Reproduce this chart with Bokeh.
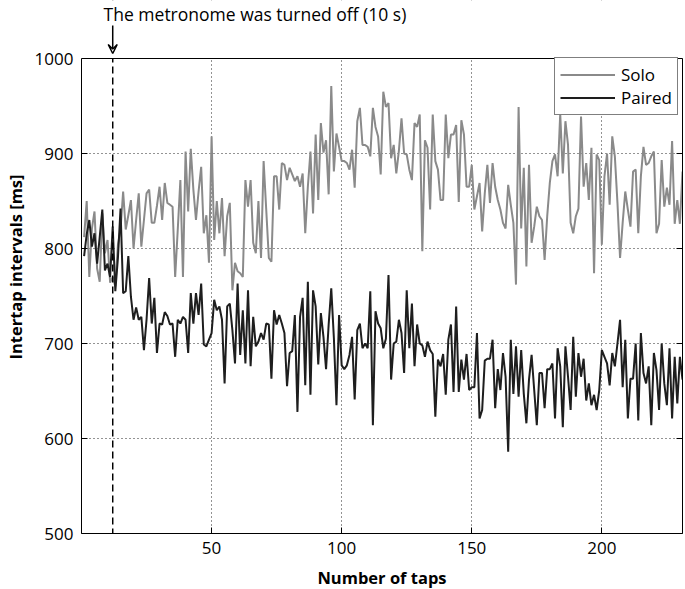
from bokeh.plotting import figure
from bokeh.models import (Range1d, Span, Label, Arrow, VeeHead, FixedTicker, LinearAxis,
                          Legend, LegendItem, BoxAnnotation, CustomJSTickFormatter)
from bokeh.embed import file_html
from bokeh.resources import INLINE

# ---------------- data ----------------
taps = list(range(1, 232))

solo = [
    812, 850, 770, 821, 839, 779, 765, 837, 795, 809,
    764, 770, 760, 804, 820, 860, 820, 835, 851, 800,
    830, 858, 802, 830, 858, 862, 827, 827, 845, 865,
    830, 869, 848, 846, 844, 770, 820, 872, 770, 902,
    839, 905, 862, 830, 860, 886, 816, 835, 785, 918,
    809, 850, 816, 853, 792, 834, 848, 756, 785, 776,
    774, 770, 872, 844, 872, 806, 795, 850, 790, 892,
    841, 790, 786, 876, 876, 841, 890, 888, 872, 885,
    878, 871, 876, 865, 879, 816, 865, 902, 837, 920,
    851, 932, 901, 914, 857, 971, 881, 921, 907, 892,
    892, 890, 883, 904, 864, 934, 948, 909, 909, 907,
    897, 948, 928, 918, 878, 965, 949, 953, 895, 909,
    879, 903, 937, 900, 899, 883, 872, 932, 928, 941,
    797, 914, 906, 841, 941, 892, 883, 851, 851, 941,
    895, 920, 920, 930, 849, 935, 920, 865, 865, 888,
    841, 855, 869, 818, 858, 888, 848, 890, 865, 851,
    841, 827, 821, 867, 846, 827, 762, 949, 821, 885,
    781, 888, 806, 823, 844, 834, 830, 788, 834, 869,
    892, 899, 876, 942, 879, 934, 909, 827, 816, 834,
    842, 939, 865, 890, 851, 906, 774, 899, 893, 804,
    876, 900, 846, 918, 897, 848, 790, 827, 860, 841,
    823, 881, 883, 816, 876, 907, 888, 890, 897, 902,
    816, 826, 893, 844, 864, 846, 913, 826, 851, 826, 881,
]

paired = [
    792, 815, 830, 802, 816, 784, 812, 841, 777, 784,
    770, 823, 755, 790, 842, 753, 755, 792, 749, 725,
    738, 725, 728, 693, 725, 769, 721, 748, 690, 721,
    720, 733, 729, 720, 721, 686, 725, 721, 728, 725,
    690, 753, 721, 753, 730, 763, 699, 697, 704, 711,
    746, 735, 739, 725, 658, 739, 742, 714, 679, 763,
    688, 735, 679, 756, 676, 728, 697, 702, 711, 704,
    721, 720, 663, 735, 720, 730, 721, 711, 655, 690,
    692, 730, 628, 728, 748, 656, 765, 646, 756, 739,
    678, 732, 707, 673, 720, 758, 706, 635, 730, 677,
    673, 677, 688, 707, 641, 714, 721, 695, 700, 695,
    755, 614, 734, 721, 716, 695, 705, 772, 662, 700,
    702, 725, 711, 669, 756, 695, 742, 676, 720, 700,
    698, 686, 702, 693, 689, 623, 683, 676, 689, 646,
    704, 720, 649, 739, 649, 683, 662, 689, 651, 654,
    654, 711, 621, 630, 682, 684, 684, 704, 632, 673,
    651, 690, 665, 586, 704, 647, 697, 644, 693, 647,
    616, 662, 688, 651, 614, 669, 669, 632, 673, 673,
    679, 621, 695, 676, 612, 697, 665, 630, 707, 644,
    690, 665, 684, 640, 658, 635, 646, 630, 651, 693,
    686, 679, 656, 690, 676, 700, 725, 654, 704, 621,
    663, 663, 700, 619, 711, 669, 658, 676, 614, 690,
    672, 630, 700, 658, 635, 695, 621, 686, 637, 686, 662,
]

series_names = ["Solo", "Paired"]
metronome_off_tap = 12
annotation_text = "The metronome was turned off (10 s)"
x_ticks = [50, 100, 150, 200]
y_ticks = [500, 600, 700, 800, 900, 1000]
x_label = "Number of taps"
y_label = "Intertap intervals [ms]"

FONT = "Open Sans"
Y_MIN, Y_MAX = 500, 1000
PLOT_H = 475                      # px of the 500..1000 box
HEAD = 58                         # px of annotation strip above the box (inside the frame)
px_per_ms = PLOT_H / (Y_MAX - Y_MIN)
y_top = Y_MAX + HEAD / px_per_ms

p = figure(
    frame_width=601, frame_height=PLOT_H + HEAD,
    min_border_left=76, min_border_right=3, min_border_top=0, min_border_bottom=40,
    x_range=Range1d(0, 231), y_range=Range1d(Y_MIN, y_top),
    title_location=None,
    output_backend="svg", toolbar_location=None,
    background_fill_color="white", border_fill_color="white",
)
p.outline_line_color = None

for ax in p.xaxis + p.yaxis:
    ax.major_tick_in = 6
    ax.major_tick_out = 0
    ax.minor_tick_line_color = None
    ax.axis_line_color = "black"
    ax.major_tick_line_color = "black"
    ax.major_label_text_font = FONT
    ax.major_label_text_font_size = "17px"
    ax.major_label_text_color = "black"
    ax.axis_label_text_font = FONT
    ax.axis_label_text_font_size = "16.5px"
    ax.axis_label_text_font_style = "bold"
    ax.axis_label_text_color = "black"

p.xaxis.ticker = FixedTicker(ticks=x_ticks)
p.yaxis.ticker = FixedTicker(ticks=y_ticks)
p.yaxis.bounds = (Y_MIN, Y_MAX)
p.xaxis.axis_label = x_label
p.yaxis.axis_label = y_label
p.xaxis.major_label_standoff = 8
p.xaxis.axis_label_standoff = 9
p.yaxis.major_label_standoff = 8
p.yaxis.axis_label_standoff = 5

# right edge of the box with inward ticks
blank = CustomJSTickFormatter(code="return ''")
right_ax = LinearAxis(ticker=FixedTicker(ticks=y_ticks), bounds=(Y_MIN, Y_MAX),
                      major_tick_in=6, major_tick_out=0, minor_tick_line_color=None,
                      formatter=blank, major_label_standoff=0,
                      axis_line_color="black", major_tick_line_color="black")
p.add_layout(right_ax, "right")

# grid
p.xgrid.ticker = FixedTicker(ticks=x_ticks)
p.ygrid.ticker = FixedTicker(ticks=y_ticks)
for g in (p.xgrid, p.ygrid):
    g.grid_line_color = "black"
    g.grid_line_dash = "1 3"
    g.grid_line_width = 1
    g.grid_line_alpha = 0.85

# series
r_solo = p.line(taps, solo, line_color="#8a8a8a", line_width=2)
r_paired = p.line(taps, paired, line_color="#1e1e1e", line_width=2)

# metronome switched off
p.add_layout(Span(location=metronome_off_tap, dimension="height", line_color="black",
                  line_dash="7 4", line_width=1.5))

# blank strip above the box, then the top edge of the box
p.add_layout(BoxAnnotation(bottom=Y_MAX, fill_color="white", fill_alpha=1, line_color=None,
                           line_alpha=0))
p.add_layout(Span(location=Y_MAX, dimension="width", line_color="black", line_width=1))

# annotation text and arrow
p.add_layout(Label(x=8.5, y=Y_MAX + 44.5 / px_per_ms, text=annotation_text, text_font=FONT,
                   text_font_size="17.5px", text_color="black", text_baseline="alphabetic"))
p.add_layout(Arrow(end=VeeHead(size=9, line_color="black", line_width=1.5, fill_color=None),
                   x_start=metronome_off_tap, y_start=Y_MAX + 33 / px_per_ms,
                   x_end=metronome_off_tap, y_end=Y_MAX + 5 / px_per_ms,
                   line_color="black", line_width=1.5))

# legend (lower-left corner in px from the frame's lower-left corner)
legend = Legend(items=[LegendItem(label=series_names[0], renderers=[r_solo]),
                       LegendItem(label=series_names[1], renderers=[r_paired])],
                location=(473, PLOT_H - 5 - 52))
legend.label_text_font = FONT
legend.label_text_font_size = "17px"
legend.label_text_color = "black"
legend.glyph_width = 55
legend.label_standoff = 6
legend.padding = 5
legend.spacing = -3
legend.label_height = 19
legend.glyph_height = 19
legend.margin = 0
legend.border_line_color = "black"
legend.border_line_width = 1
legend.background_fill_color = "white"
legend.background_fill_alpha = 1
p.add_layout(legend)

open("out.html", "w").write(file_html(p, INLINE))
